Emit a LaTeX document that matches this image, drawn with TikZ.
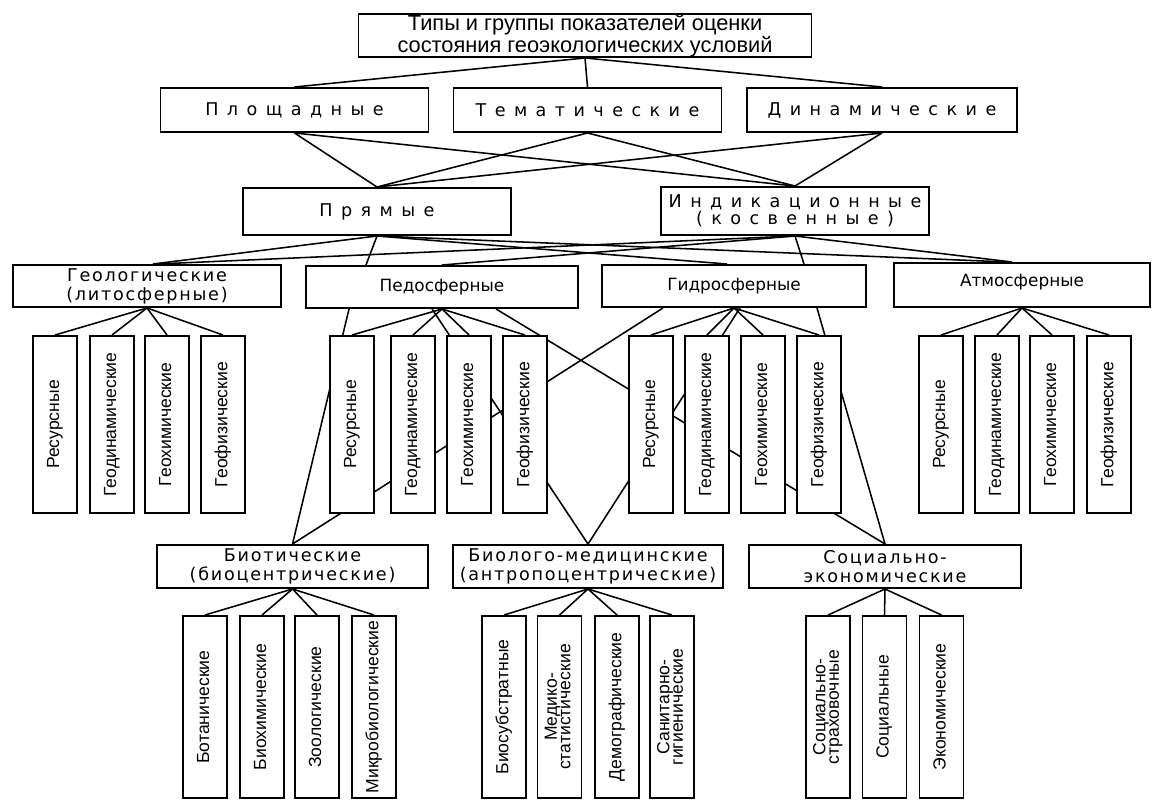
\documentclass[tikz,border=0pt]{standalone}
\usepackage{fontspec}
\setmainfont{Liberation Sans}
\newfontfamily\widefont[LetterSpace=48]{DejaVu Sans}
\newfontfamily\groupfont{DejaVu Sans}
\newfontfamily\groupwidefont[LetterSpace=10]{DejaVu Sans}
\usetikzlibrary{calc}
\pgfdeclarelayer{back}
\pgfsetlayers{back,main}
\newcommand{\vtext}[1]{\rotatebox{90}{\begin{tabular}{@{}c@{}}#1\end{tabular}}}
\renewcommand{\arraystretch}{0.8}

\tikzset{
  box/.style={draw, fill=white, line width=1.4pt, inner sep=0pt, align=center},
  headbox/.style={box, minimum width=453*0.025cm, minimum height=43*0.025cm, font=\fontsize{15.5}{13.5}\selectfont},
  kindbox/.style={box, minimum width=268*0.025cm, minimum height=44*0.025cm, font=\widefont\fontsize{12.5}{12}\selectfont},
  groupbox/.style={box, minimum width=268*0.025cm, minimum height=42*0.025cm, font=\groupfont\fontsize{12}{13}\selectfont},
  widegroup/.style={groupbox, font=\groupwidefont\fontsize{12.5}{13.5}\selectfont},
  slab/.style={box, minimum width=44*0.025cm, minimum height=177*0.025cm, font=\fontsize{12.5}{12}\selectfont},
  lowslab/.style={slab, minimum height=182*0.025cm},
  link/.style={line width=1.1pt},
}

\begin{document}
\begin{tikzpicture}[x=0.025cm, y=-0.025cm]
                \useasboundingbox (0,0) rectangle (1156,800);

                % head and first split
                \node[headbox] (head) at (585,35.5) {Типы и группы показателей оценки\\состояния геоэкологических условий};
                \node[kindbox] (area) at (294.5,110) {Площадные};
                \node[kindbox] (theme) at (587.5,110) {Тематические};
                \node[kindbox, minimum width=270*0.025cm] (dyn) at (882,110) {Динамические};

                \node[kindbox, minimum height=47*0.025cm] (direct) at (377,211.5) {Прямые};
                \node[kindbox, minimum height=48*0.025cm] (indic) at (795,211) {Индикационные\\(косвенные)};

                % spheres
                \node[widegroup] (geo) at (147,286) {Геологические\\(литосферные)};
                \node[groupbox, minimum width=272*0.025cm] (pedo) at (442,287) {Педосферные};
                \node[groupbox, minimum width=264*0.025cm] (hydro) at (734,286) {Гидросферные};
                \node[groupbox, minimum width=256*0.025cm, minimum height=44*0.025cm] (atmo) at (1022,285) {\raisebox{6pt}{Атмосферные}};

                \node[slab] (geo1) at (55,424.5) {\vtext{Ресурсные}};
                \node[slab] (geo2) at (112,424.5) {\vtext{Геодинамические}};
                \node[slab] (geo3) at (167,424.5) {\vtext{Геохимические}};
                \node[slab] (geo4) at (223,424.5) {\vtext{Геофизические}};

                \node[slab] (pedo1) at (352,424.5) {\vtext{Ресурсные}};
                \node[slab] (pedo2) at (413,424.5) {\vtext{Геодинамические}};
                \node[slab] (pedo3) at (469,424.5) {\vtext{Геохимические}};
                \node[slab] (pedo4) at (525,424.5) {\vtext{Геофизические}};

                \node[slab] (hydro1) at (651,424.5) {\vtext{Ресурсные}};
                \node[slab] (hydro2) at (707,424.5) {\vtext{Геодинамические}};
                \node[slab] (hydro3) at (763,424.5) {\vtext{Геохимические}};
                \node[slab] (hydro4) at (819,424.5) {\vtext{Геофизические}};

                \node[slab] (atmo1) at (941,424.5) {\vtext{Ресурсные}};
                \node[slab] (atmo2) at (997,424.5) {\vtext{Геодинамические}};
                \node[slab] (atmo3) at (1052,424.5) {\vtext{Геохимические}};
                \node[slab] (atmo4) at (1109,424.5) {\vtext{Геофизические}};

                % receivers
                \node[widegroup, minimum width=271*0.025cm, minimum height=43*0.025cm] (biot) at (292.5,566.5) {Биотические\\(биоцентрические)};
                \node[widegroup, minimum width=270*0.025cm, minimum height=43*0.025cm] (biomed) at (588,566.5) {Биолого-медицинские\\(антропоцентрические)};
                \node[widegroup, minimum width=272*0.025cm, minimum height=43*0.025cm] (socec) at (885,566.5) {Социально-\\экономические};

                \node[lowslab] (bio1) at (205,707) {\vtext{Ботанические}};
                \node[lowslab] (bio2) at (262,707) {\vtext{Биохимические}};
                \node[lowslab] (bio3) at (317,707) {\vtext{Зоологические}};
                \node[lowslab] (bio4) at (374,707) {\vtext{Микробиологические}};

                \node[lowslab] (med1) at (504,707) {\vtext{Биосубстратные}};
                \node[lowslab] (med2) at (559.5,707) {\vtext{Медико-\\статистические}};
                \node[lowslab] (med3) at (617,707) {\vtext{Демографические}};
                \node[lowslab] (med4) at (672,707) {\vtext{Санитарно-\\гигиенические}};

                \node[lowslab] (soc1) at (828,707) {\vtext{Социально-\\страховочные}};
                \node[lowslab] (soc2) at (884.5,707) {\vtext{Социальные}};
                \node[lowslab] (soc3) at (941.5,707) {\vtext{Экономические}};

                \begin{pgfonlayer}{back}
                \draw[link] (head.south) -- (area.north);
                \draw[link] (head.south) -- (theme.north);
                \draw[link] (head.south) -- (dyn.north);

                \draw[link] (area.south) -- (direct.north);
                \draw[link] (area.south) -- (indic.north);
                \draw[link] (theme.south) -- (direct.north);
                \draw[link] (theme.south) -- (indic.north);
                \draw[link] (dyn.south) -- (direct.north);
                \draw[link] (dyn.south) -- (indic.north);

                \draw[link] (direct.south) -- ($(geo.north)+(6,0)$);
                \draw[link] (direct.south) -- ($(pedo.north)+(-76,0)$);
                \draw[link] (direct.south) -- ($(hydro.north)+(-7,0)$);
                \draw[link] (direct.south) -- ($(atmo.north)+(-14,0)$);
                \draw[link] (indic.south) -- ($(geo.north)+(10,0)$);
                \draw[link] (indic.south) -- (pedo.north);
                \draw[link] (indic.south) -- ($(hydro.north)+(70,0)$);
                \draw[link] (indic.south) -- ($(atmo.north)+(-10,0)$);

                \draw[link] (geo.south) -- (geo1.north);
                \draw[link] (geo.south) -- (geo2.north);
                \draw[link] (geo.south) -- (geo3.north);
                \draw[link] (geo.south) -- (geo4.north);
                \draw[link] (pedo.south) -- (pedo1.north);
                \draw[link] (pedo.south) -- (pedo2.north);
                \draw[link] (pedo.south) -- (pedo3.north);
                \draw[link] (pedo.south) -- (pedo4.north);
                \draw[link] (hydro.south) -- (hydro1.north);
                \draw[link] (hydro.south) -- (hydro2.north);
                \draw[link] (hydro.south) -- (hydro3.north);
                \draw[link] (hydro.south) -- (hydro4.north);
                \draw[link] (atmo.south) -- (atmo1.north);
                \draw[link] (atmo.south) -- (atmo2.north);
                \draw[link] (atmo.south) -- (atmo3.north);
                \draw[link] (atmo.south) -- (atmo4.north);

                % cross links, hidden behind the slabs
                \draw[link] ($(pedo.south west)+(44,0)$) -- (biot.north);
                \draw[link] ($(hydro.south west)+(62,0)$) -- (biot.north);
                \draw[link] ($(pedo.south)+(-10,0)$) -- (biomed.north);
                \draw[link] ($(hydro.south)+(6,0)$) -- (biomed.north);
                \draw[link] ($(pedo.south)+(54,0)$) -- (socec.north);
                \draw[link] ($(hydro.south)+(83,0)$) -- (socec.north);

                \draw[link] (biot.south) -- (bio1.north);
                \draw[link] (biot.south) -- (bio2.north);
                \draw[link] (biot.south) -- (bio3.north);
                \draw[link] (biot.south) -- (bio4.north);
                \draw[link] (biomed.south) -- (med1.north);
                \draw[link] (biomed.south) -- (med2.north);
                \draw[link] (biomed.south) -- (med3.north);
                \draw[link] (biomed.south) -- (med4.north);
                \draw[link] (socec.south) -- (soc1.north);
                \draw[link] (socec.south) -- (soc2.north);
                \draw[link] (socec.south) -- (soc3.north);
                \end{pgfonlayer}
\end{tikzpicture}
\end{document}
